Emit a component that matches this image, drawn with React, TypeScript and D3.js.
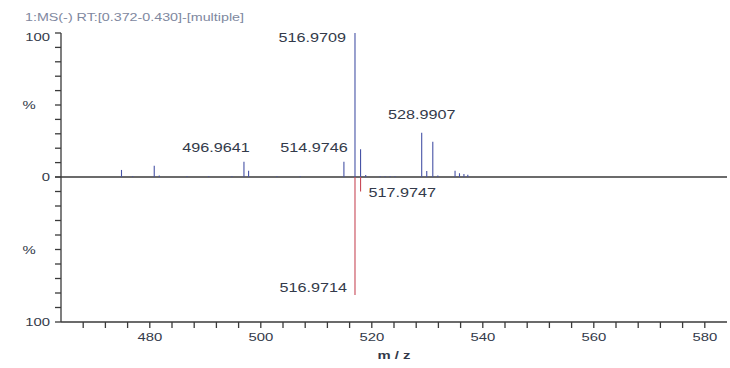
import React from "react";
import * as d3 from "d3";

const title = "1:MS(-) RT:[0.372-0.430]-[multiple]";
const xLabel = "m / z";
const xTickLabels = [480, 500, 520, 540, 560, 580];

// upper spectrum (m/z, relative intensity %)
const upperMz = [474.9, 476.9, 480.8, 481.7, 486.7, 490.6, 494.8, 496.9641, 497.8, 502.9, 507.1, 514.9746, 516.9709, 517.9747, 518.9, 521.5, 522.4, 523.3, 524.2, 528.9907, 529.9, 530.99, 531.9, 535.0, 535.8, 536.6, 537.3];
const upperInt = [4.9, 0.6, 7.8, 1.0, 0.5, 0.5, 0.5, 10.6, 4.4, 0.5, 0.6, 10.6, 100, 19.2, 1.4, 0.6, 0.6, 0.6, 0.6, 30.8, 4.1, 24.5, 1.0, 4.4, 2.6, 2.0, 1.5];

// lower spectrum (m/z, relative intensity %)
const lowerMz = [516.9714, 517.9747];
const lowerInt = [81.4, 10.0];

// annotations
const upperLabelMz = [516.9709, 528.9907, 496.9641, 514.9746];
const upperLabelText = ["516.9709", "528.9907", "496.9641", "514.9746"];
const lowerLabelMz = [517.9747, 516.9714];
const lowerLabelText = ["517.9747", "516.9714"];

const W = 730;
const H = 368;
const SX = 1.35; // horizontal stretch of the reference's text

function SText(props: { x: number; y: number; anchor?: string; size: number; fill: string; weight?: string; children: React.ReactNode }) {
  const { x, y, anchor = "start", size, fill, weight = "normal", children } = props;
  return (
    <text
      transform={`translate(${x},${y}) scale(${SX},1)`}
      textAnchor={anchor}
      fontSize={size}
      fill={fill}
      fontWeight={weight}
      fontFamily="'Liberation Sans', Arial, sans-serif"
    >
      {children}
    </text>
  );
}

export default function App() {
  const x = d3.scaleLinear().domain([464, 584]).range([61, 727]);
  const yU = d3.scaleLinear().domain([0, 100]).range([177, 33]);
  const yL = d3.scaleLinear().domain([0, 100]).range([177, 322]);

  const xTicks = d3.range(468, 584, 4);
  const yTicks = d3.range(0, 101, 10);

  const axisColor = "#3a3a3a";
  const textColor = "#333a4a";
  const blue = "#4753a6";
  const red = "#c84a58";

  // label placement for upper peaks: main peak label to the left, others above
  const upperLabelPos = upperLabelMz.map((m, i) => {
    if (i === 0) return { x: x(m) - 9, y: yU(100) + 9, anchor: "end" };
    if (i === 1) return { x: x(m), y: yU(40.3), anchor: "middle" };
    if (i === 2) return { x: x(m) - 28, y: yU(17.5), anchor: "middle" };
    return { x: x(m) - 30, y: yU(17.5), anchor: "middle" };
  });
  const lowerLabelPos = lowerLabelMz.map((m, i) => {
    if (i === 0) return { x: x(m) + 8, y: yL(13.8), anchor: "start" };
    return { x: x(m) - 8, y: yL(81.4) - 3, anchor: "end" };
  });

  return (
    <svg width={W} height={H} style={{ position: "absolute", left: 0, top: 0, background: "#fff" }}>
      <rect x={0} y={0} width={W} height={H} fill="#fff" />
      <SText x={25} y={21} size={10.6} fill="#8088a0">{title}</SText>

      {/* y axis */}
      <line x1={61} x2={61} y1={yU(100)} y2={yL(100)} stroke={axisColor} strokeWidth={1.3} />
      {yTicks.map((t) => (
        <line key={"u" + t} x1={55} x2={61} y1={yU(t)} y2={yU(t)} stroke={axisColor} strokeWidth={1.3} />
      ))}
      {yTicks.map((t) => (
        <line key={"l" + t} x1={55} x2={61} y1={yL(t)} y2={yL(t)} stroke={axisColor} strokeWidth={1.3} />
      ))}
      <SText x={50} y={yU(100) + 8} anchor="end" size={11} fill={textColor}>100</SText>
      <SText x={50} y={yU(0) + 4} anchor="end" size={11} fill={textColor}>0</SText>
      <SText x={50} y={yL(100) + 4} anchor="end" size={11} fill={textColor}>100</SText>
      <SText x={29} y={yU(50) + 4} anchor="middle" size={11} fill={textColor}>%</SText>
      <SText x={29} y={yL(50) + 4} anchor="middle" size={11} fill={textColor}>%</SText>

      {/* zero baseline and x axis */}
      <line x1={61} x2={727} y1={yU(0)} y2={yU(0)} stroke={axisColor} strokeWidth={1.3} />
      <line x1={61} x2={727} y1={yL(100)} y2={yL(100)} stroke={axisColor} strokeWidth={1.3} />
      {xTicks.map((t) => (
        <line key={"x" + t} x1={x(t)} x2={x(t)} y1={yL(100)} y2={yL(100) + 6} stroke={axisColor} strokeWidth={1.3} />
      ))}
      {xTickLabels.map((t) => (
        <SText key={"xl" + t} x={x(t)} y={yL(100) + 19} anchor="middle" size={11} fill={textColor}>{t}</SText>
      ))}
      <SText x={(61 + 727) / 2} y={359} anchor="middle" size={11} weight="bold" fill={textColor}>{xLabel}</SText>

      {/* upper spectrum */}
      {upperMz.map((m, i) => (
        <line key={"pu" + i} x1={x(m)} x2={x(m)} y1={yU(0)} y2={yU(upperInt[i])} stroke={blue} strokeWidth={1.1} />
      ))}
      {/* lower spectrum */}
      {lowerMz.map((m, i) => (
        <line key={"pl" + i} x1={x(m)} x2={x(m)} y1={yL(0)} y2={yL(lowerInt[i])} stroke={red} strokeWidth={1.1} />
      ))}

      {upperLabelText.map((t, i) => (
        <SText key={"ul" + i} x={upperLabelPos[i].x} y={upperLabelPos[i].y} anchor={upperLabelPos[i].anchor} size={12} fill={textColor}>{t}</SText>
      ))}
      {lowerLabelText.map((t, i) => (
        <SText key={"ll" + i} x={lowerLabelPos[i].x} y={lowerLabelPos[i].y} anchor={lowerLabelPos[i].anchor} size={12} fill={textColor}>{t}</SText>
      ))}
    </svg>
  );
}
